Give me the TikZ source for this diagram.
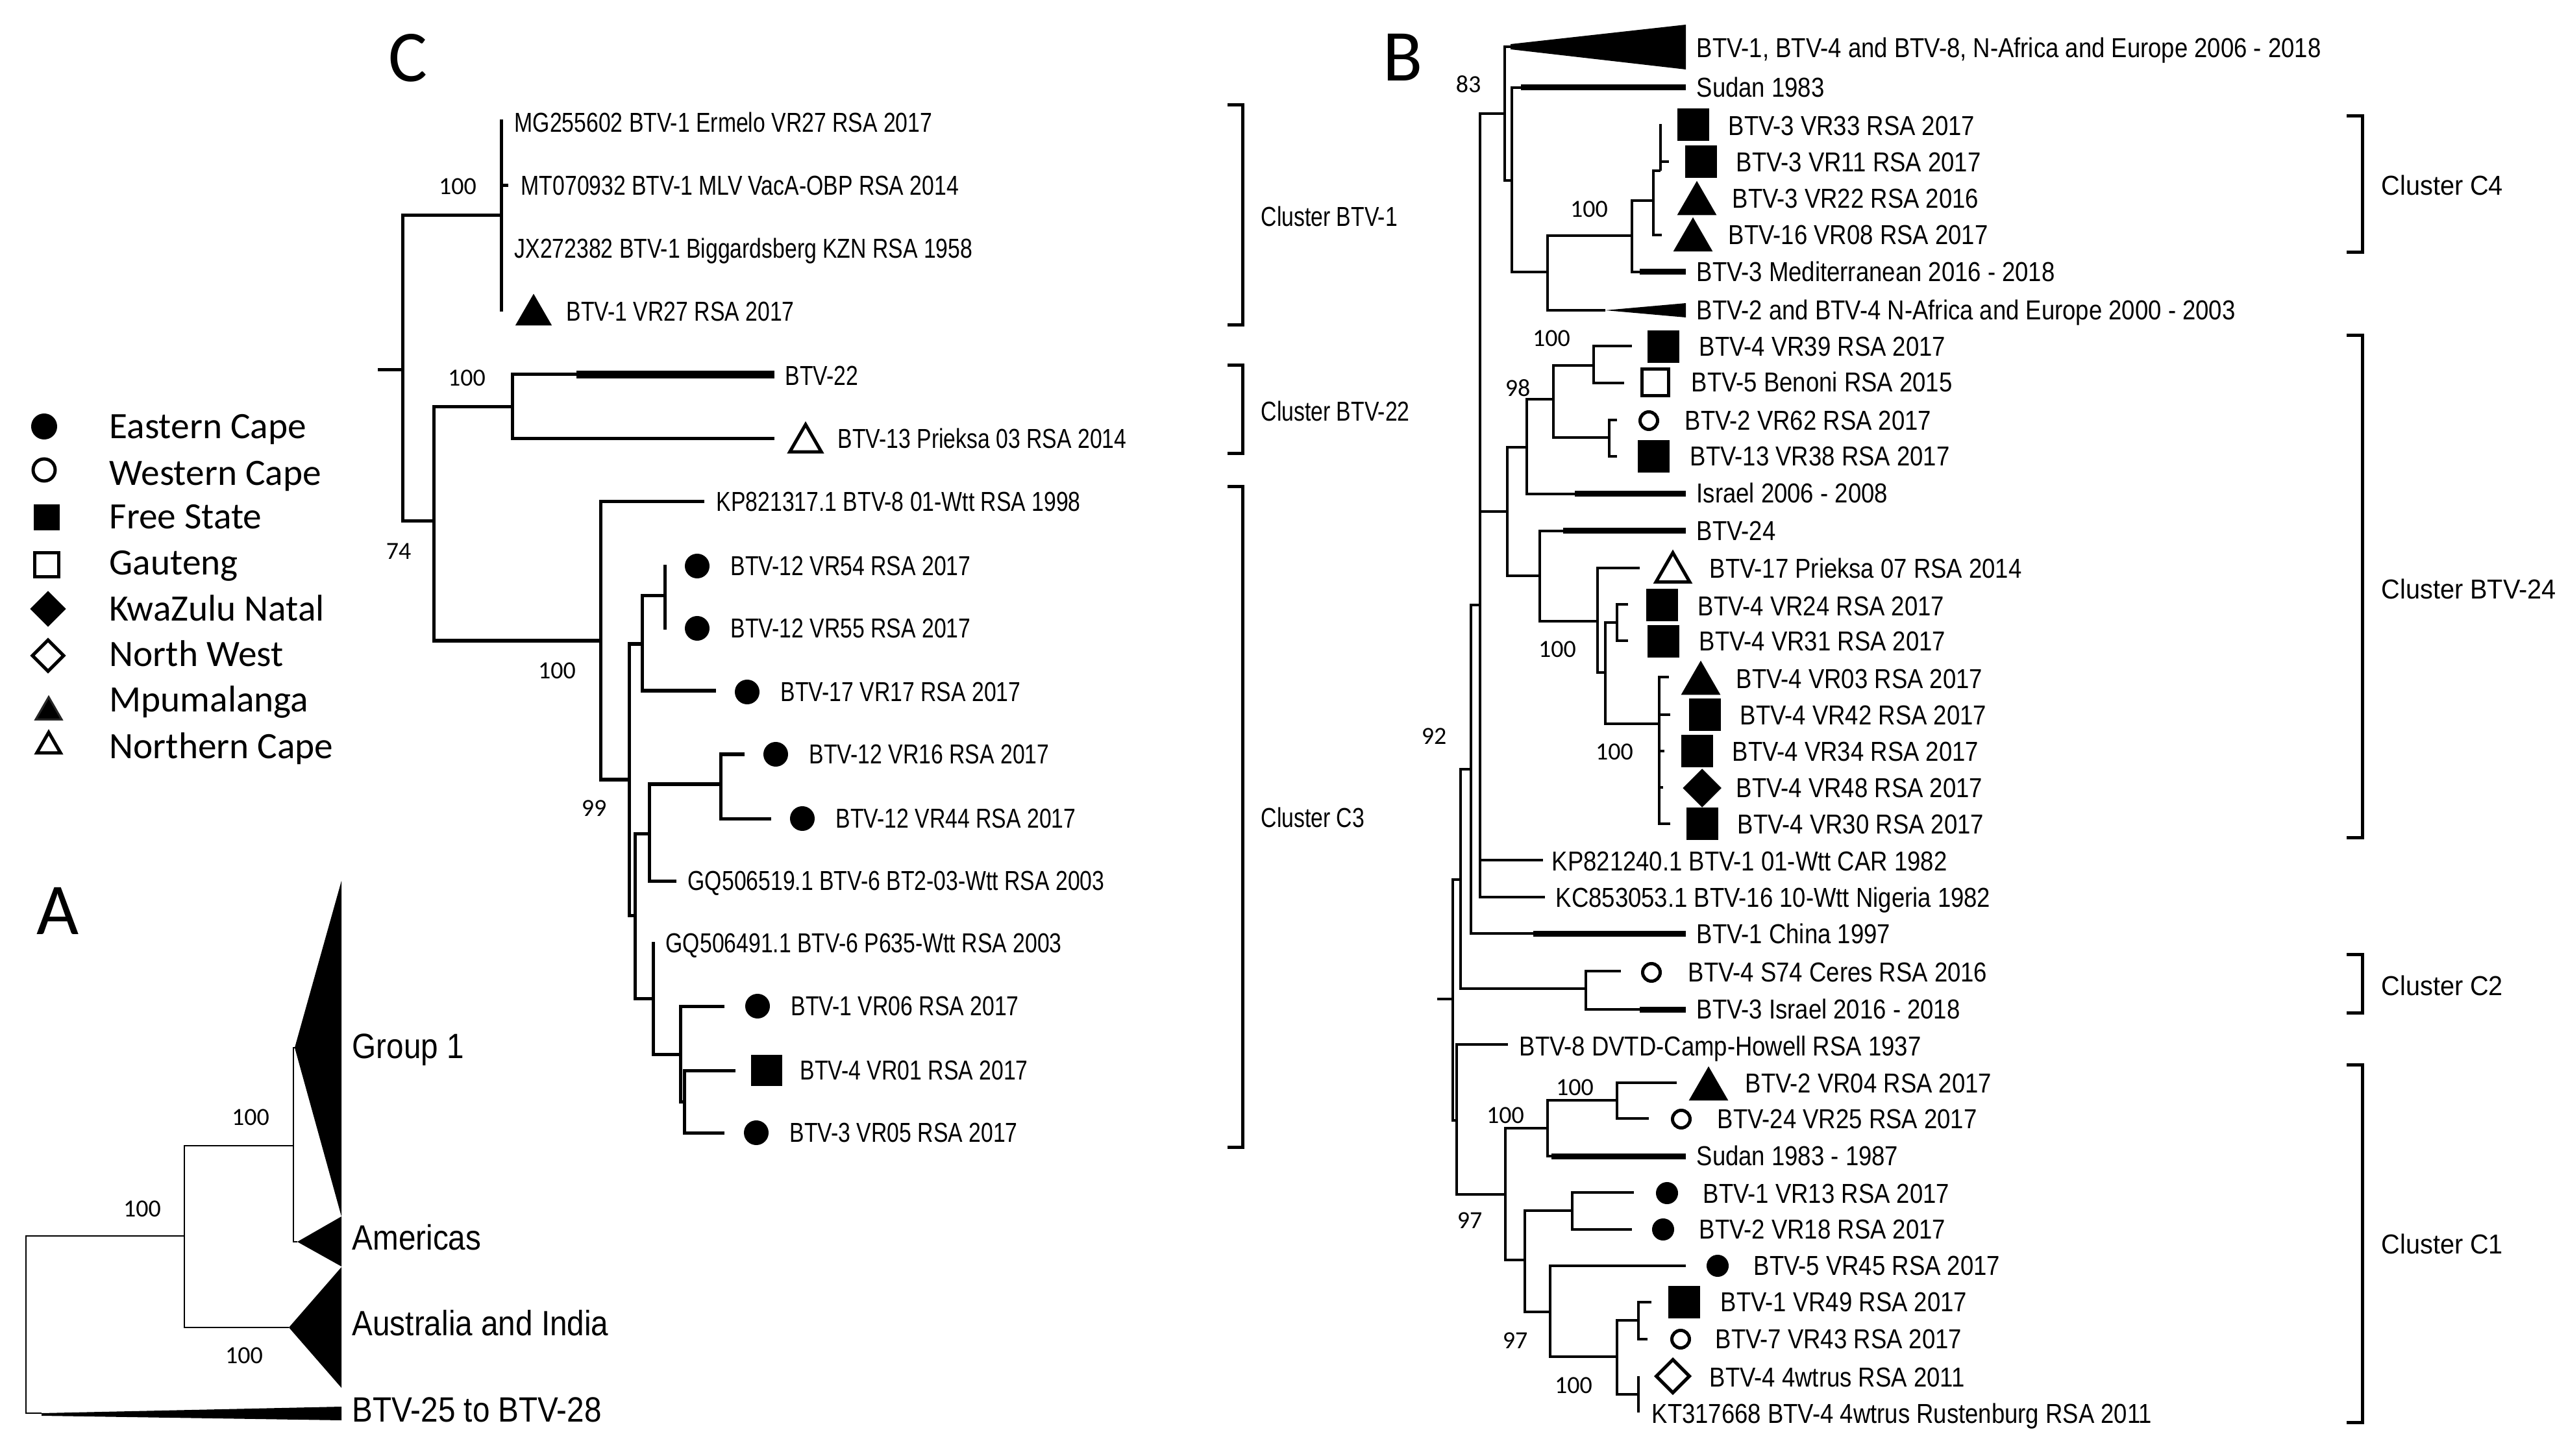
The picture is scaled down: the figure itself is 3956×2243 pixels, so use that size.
\documentclass[tikz,border=0pt]{standalone}
\usepackage{fontspec}
\setmainfont{Carlito}
\newfontfamily\narrowfont[FakeStretch=0.8]{Liberation Sans}
\newfontfamily\bnarrowfont[FakeStretch=0.865]{Liberation Sans}
\newfontfamily\clusterfont[FakeStretch=0.94]{Liberation Sans}
\newfontfamily\cladefont[FakeStretch=0.88]{Liberation Sans}
\usetikzlibrary{shapes.geometric}

\tikzset{
  leaf/.style={anchor=west, inner sep=0pt, text height=0.72em, text depth=0pt, yshift=-0.02cm, font=\narrowfont\fontsize{12}{14}\selectfont},
  bleaf/.style={leaf, font=\bnarrowfont\fontsize{12}{14}\selectfont},
  clus/.style={anchor=west, inner sep=0pt, text height=0.72em, text depth=0pt, font=\clusterfont\fontsize{12}{14}\selectfont},
  cclus/.style={clus, font=\narrowfont\fontsize{12}{14}\selectfont},
  clade/.style={anchor=west, inner sep=0pt, text height=0.72em, text depth=0pt, font=\cladefont\fontsize{15.4}{18}\selectfont},
  boot/.style={inner sep=0pt, font=\fontsize{10.8}{12}\selectfont},
  legtxt/.style={anchor=west, inner sep=0pt, text height=0.64em, text depth=0pt, yshift=-0.06cm, font=\fontsize{16.3}{19}\selectfont},
  panel/.style={inner sep=0pt, font=\fontsize{32}{36}\selectfont},
  brk/.style={line width=0.05cm},
  thk/.style={line width=0.09cm},
  fcirc/.style={circle, fill, inner sep=0pt, minimum size=#1},
  fcirc/.default=0.38cm,
  ocirc/.style={circle, draw, line width=0.05cm, inner sep=0pt, minimum size=#1},
  ocirc/.default=0.27cm,
  fsq/.style={rectangle, fill, inner sep=0pt, minimum size=#1},
  fsq/.default=0.49cm,
  osq/.style={rectangle, draw, line width=0.05cm, inner sep=0pt, minimum size=#1},
  osq/.default=0.41cm,
  fdia/.style={diamond, fill, inner sep=0pt, minimum size=#1},
  fdia/.default=0.6cm,
  odia/.style={diamond, draw, line width=0.05cm, inner sep=0pt, minimum size=#1},
  odia/.default=0.53cm,
  ftri/.style={regular polygon, regular polygon sides=3, fill, inner sep=0pt, minimum size=#1, yshift=-#1/8},
  ftri/.default=0.7cm,
  otri/.style={regular polygon, regular polygon sides=3, draw, line width=0.05cm, inner sep=0pt, minimum size=#1, yshift=-#1/8},
  otri/.default=0.6cm
}

\begin{document}
\begin{tikzpicture}[x=0.01cm, y=-0.01cm]
  \useasboundingbox (0,0) rectangle (3956,2243);

  % ---------------- Panel A ----------------
  \node[panel] (labA) at (89,1403) {A};
  \coordinate (a0) at (40,2040);
  \coordinate (a1) at (284,1904);
  \coordinate (a2) at (452,1765);
  \coordinate (gG) at (454,1614);
  \coordinate (gAm) at (458,1913);
  \coordinate (gAu) at (445,2045);
  \coordinate (g25) at (64,2177);
  \begin{scope}[line width=0.025cm]
    \draw (a0) |- (a1);  \draw (a0) |- (g25);
    \draw (a1) |- (a2);  \draw (a1) |- (gAu);
    \draw (a2) |- (gG);  \draw (a2) |- (gAm);
  \end{scope}
  % collapsed clades
  \fill (gG) -- (526,1357) -- (526,1874) -- cycle;
  \fill (gAm) -- (526,1874) -- (526,1951) -- cycle;
  \fill (gAu) -- (526,1952) -- (526,2138) -- cycle;
  \fill (g25) -- (526,2167) -- (526,2188) -- (64,2181) -- cycle;
  \node[clade] (nG) at (542,1618) {Group 1};
  \node[clade] (nAm) at (542,1913) {Americas};
  \node[clade] (nAu) at (542,2045) {Australia and India};
  \node[clade] (n25) at (542,2178) {BTV-25 to BTV-28};
  \node[boot] (ba1) at (386,1721) {100};
  \node[boot] (ba2) at (219,1862) {100};
  \node[boot] (ba3) at (376,2088) {100};

  % ---------------- Legend ----------------
  \node[fcirc=0.40cm] (lg1) at (68,657) {};
  \node[ocirc=0.34cm] (lg2) at (68,724) {};
  \node[fsq=0.40cm] (lg3) at (72,797) {};
  \node[osq=0.36cm] (lg4) at (72,870) {};
  \node[fdia=0.56cm] (lg5) at (74,938) {};
  \node[odia=0.50cm] (lg6) at (74,1010) {};
  \node[ftri=0.46cm, draw=black!85, line width=0.03cm] (lg7) at (75,1091) {};
  \node[otri=0.42cm] (lg8) at (75,1144) {};
  \node[legtxt] (lt1) at (168,658) {Eastern Cape};
  \node[legtxt] (lt2) at (168,730) {Western Cape};
  \node[legtxt] (lt3) at (168,797) {Free State};
  \node[legtxt] (lt4) at (168,868) {Gauteng};
  \node[legtxt] (lt5) at (168,939) {KwaZulu Natal};
  \node[legtxt] (lt6) at (168,1009) {North West};
  \node[legtxt] (lt7) at (168,1079) {Mpumalanga};
  \node[legtxt] (lt8) at (168,1151) {Northern Cape};

  % ---------------- Panel C ----------------
  \node[panel] (labC) at (628,89) {C};
  % internal nodes
  \coordinate (cst) at (582,570);
  \coordinate (c0) at (620,570);
  \coordinate (c1) at (772,332);
  \coordinate (c74) at (668,803);
  \coordinate (c22) at (789,627);
  \coordinate (c100) at (925,987);
  \coordinate (c99) at (969,1201);
  \coordinate (ca) at (989,992);
  \coordinate (cb) at (1024,918);
  \coordinate (cc) at (978,1410);
  \coordinate (cd) at (1000,1284);
  \coordinate (ce) at (1110,1208);
  \coordinate (cf) at (1006,1538);
  \coordinate (cg) at (1048,1624);
  \coordinate (ch) at (1054,1697);
  % tips
  \coordinate (tMG) at (772,184);
  \coordinate (tMT) at (783,286);
  \coordinate (tJX) at (772,383);
  \coordinate (tV27) at (772,480);
  \coordinate (t22) at (1193,577);
  \coordinate (t22k) at (888,577);
  \coordinate (tP03) at (1193,676);
  \coordinate (tKP) at (1085,773);
  \coordinate (tV54) at (1024,870);
  \coordinate (tV55) at (1024,970);
  \coordinate (tV17) at (1103,1064);
  \coordinate (tV16) at (1147,1162);
  \coordinate (tV44) at (1188,1261);
  \coordinate (tGQa) at (1042,1357);
  \coordinate (tGQb) at (1006,1451);
  \coordinate (tV06) at (1116,1550);
  \coordinate (tV01) at (1133,1649);
  \coordinate (tV05) at (1116,1745);
  \begin{scope}[line width=0.05cm]
    \draw (cst) -- (c0);
    \draw (c0) |- (c1);    \draw (c0) |- (c74);
    \draw (c1) |- (tMG);   \draw (c1) |- (tMT);
    \draw (c1) |- (tJX);   \draw (c1) |- (tV27);
    \draw (c74) |- (c22);  \draw (c74) |- (c100);
    \draw (c22) |- (t22);  \draw (c22) |- (tP03);
    \draw (c100) |- (tKP); \draw (c100) |- (c99);
    \draw (c99) |- (ca);   \draw (c99) |- (cc);
    \draw (ca) |- (cb);    \draw (ca) |- (tV17);
    \draw (cb) |- (tV54);  \draw (cb) |- (tV55);
    \draw (cc) |- (cd);    \draw (cc) |- (cf);
    \draw (cd) |- (ce);    \draw (cd) |- (tGQa);
    \draw (ce) |- (tV16);  \draw (ce) |- (tV44);
    \draw (cf) |- (tGQb);  \draw (cf) |- (cg);
    \draw (cg) |- (tV06);  \draw (cg) |- (ch);
    \draw (ch) |- (tV01);  \draw (ch) |- (tV05);
  \end{scope}
  \draw[line width=0.12cm] (t22k) -- (t22);
  % symbols
  \node[ftri=0.65cm] (sV27) at (822,477) {};
  \node[otri=0.56cm] (sP03) at (1241,675) {};
  \node[fcirc] (sV54) at (1074,872) {};
  \node[fcirc] (sV55) at (1074,968) {};
  \node[fcirc] (sV17) at (1151,1066) {};
  \node[fcirc] (sV16) at (1195,1162) {};
  \node[fcirc] (sV44) at (1236,1261) {};
  \node[fcirc] (sV06) at (1167,1550) {};
  \node[fsq=0.47cm] (sV01) at (1181,1649) {};
  \node[fcirc] (sV05) at (1165,1745) {};
  % labels
  \node[leaf] (lMG) at (792,189) {MG255602 BTV-1 Ermelo VR27 RSA 2017};
  \node[leaf] (lMT) at (802,286) {MT070932 BTV-1 MLV VacA-OBP RSA 2014};
  \node[leaf] (lJX) at (792,383) {JX272382 BTV-1 Biggardsberg KZN RSA 1958};
  \node[leaf] (lV27) at (872,480) {BTV-1 VR27 RSA 2017};
  \node[leaf] (l22) at (1209,579) {BTV-22};
  \node[leaf] (lP03) at (1290,676) {BTV-13 Prieksa 03 RSA 2014};
  \node[leaf] (lKP) at (1103,773) {KP821317.1 BTV-8 01-Wtt RSA 1998};
  \node[leaf] (lV54) at (1125,872) {BTV-12 VR54 RSA 2017};
  \node[leaf] (lV55) at (1125,968) {BTV-12 VR55 RSA 2017};
  \node[leaf] (lV17) at (1202,1066) {BTV-17 VR17 RSA 2017};
  \node[leaf] (lV16) at (1246,1162) {BTV-12 VR16 RSA 2017};
  \node[leaf] (lV44) at (1287,1261) {BTV-12 VR44 RSA 2017};
  \node[leaf] (lGQa) at (1059,1357) {GQ506519.1 BTV-6 BT2-03-Wtt RSA 2003};
  \node[leaf] (lGQb) at (1025,1453) {GQ506491.1 BTV-6 P635-Wtt RSA 2003};
  \node[leaf] (lV06) at (1218,1550) {BTV-1 VR06 RSA 2017};
  \node[leaf] (lV01) at (1232,1649) {BTV-4 VR01 RSA 2017};
  \node[leaf] (lV05) at (1216,1745) {BTV-3 VR05 RSA 2017};
  % bootstrap values
  \node[boot] (bc1) at (705,287) {100};
  \node[boot] (bc2) at (719,582) {100};
  \node[boot] (bc3) at (614,849) {74};
  \node[boot] (bc4) at (858,1033) {100};
  \node[boot] (bc5) at (915,1245) {99};
  % clusters
  \draw[brk] (1891,162) -| (1914,501) -- (1891,501);
  \draw[brk] (1891,563) -| (1914,699) -- (1891,699);
  \draw[brk] (1891,750) -| (1914,1767) -- (1891,1767);
  \node[cclus] (kc1) at (1942,336) {Cluster BTV-1};
  \node[cclus] (kc2) at (1942,636) {Cluster BTV-22};
  \node[cclus] (kc3) at (1942,1262) {Cluster C3};

  % ---------------- Panel B ----------------
  \node[panel] (labB) at (2161,88) {B};
  % internal nodes
  \coordinate (bst) at (2214,1539);
  \coordinate (b0) at (2238,1539);
  \coordinate (b1) at (2250,1355);
  \coordinate (b2) at (2266,1185);
  \coordinate (b3) at (2280,932);
  \coordinate (b83) at (2318,175);
  \coordinate (by) at (2329,278);
  \coordinate (bz) at (2384,419);
  \coordinate (bc4) at (2514,363);
  \coordinate (b5) at (2547,309);
  \coordinate (b6) at (2558,263);
  \coordinate (bn1) at (2322,788);
  \coordinate (b98) at (2352,689);
  \coordinate (b7) at (2393,615);
  \coordinate (b8) at (2455,563);
  \coordinate (b9) at (2479,674);
  \coordinate (b24) at (2372,887);
  \coordinate (b10) at (2461,957);
  \coordinate (b11) at (2473,1036);
  \coordinate (b12) at (2491,959);
  \coordinate (b13) at (2556,1115);
  \coordinate (bc2) at (2443,1523);
  \coordinate (bl) at (2244,1726);
  \coordinate (b97) at (2319,1840);
  \coordinate (b14) at (2384,1738);
  \coordinate (b15) at (2491,1695);
  \coordinate (b16) at (2349,1941);
  \coordinate (b17) at (2422,1865);
  \coordinate (b18) at (2388,2021);
  \coordinate (b19) at (2491,2090);
  \coordinate (b20) at (2524,2034);
  \coordinate (b21) at (2524,2148);
  % tips
  \coordinate (uTop) at (2327,72);
  \coordinate (uSud) at (2597,135);   \coordinate (uSudk) at (2343,135);
  \coordinate (uV33) at (2558,191);
  \coordinate (uV11) at (2571,249);
  \coordinate (uV22) at (2547,306);
  \coordinate (uV08) at (2560,362);
  \coordinate (uMed) at (2597,419);   \coordinate (uMedk) at (2526,419);
  \coordinate (uNA) at (2473,478);
  \coordinate (uV39) at (2514,533);
  \coordinate (uBen) at (2502,590);
  \coordinate (uV62) at (2491,647);
  \coordinate (uV38) at (2491,703);
  \coordinate (uIsr) at (2597,761);   \coordinate (uIsrk) at (2426,761);
  \coordinate (u24) at (2597,818);    \coordinate (u24k) at (2408,818);
  \coordinate (uP07) at (2526,875);
  \coordinate (uV24) at (2508,931);
  \coordinate (uV31) at (2508,987);
  \coordinate (uV03) at (2571,1043);
  \coordinate (uV42) at (2573,1101);
  \coordinate (uV34) at (2564,1157);
  \coordinate (uV48) at (2562,1213);
  \coordinate (uV30) at (2573,1269);
  \coordinate (uKP) at (2377,1325);
  \coordinate (uKC) at (2380,1382);
  \coordinate (uChi) at (2597,1438);  \coordinate (uChik) at (2362,1438);
  \coordinate (uS74) at (2497,1496);
  \coordinate (uIs16) at (2597,1555); \coordinate (uIs16k) at (2526,1555);
  \coordinate (uDV) at (2323,1609);
  \coordinate (uV04) at (2583,1668);
  \coordinate (uV25) at (2540,1723);
  \coordinate (uSu87) at (2597,1781); \coordinate (uSu87k) at (2390,1781);
  \coordinate (uV13) at (2517,1837);
  \coordinate (uV18) at (2514,1894);
  \coordinate (uV45) at (2597,1950);
  \coordinate (uV49) at (2544,2006);
  \coordinate (uV43) at (2538,2063);
  \coordinate (u4w) at (2524,2120);
  \coordinate (uKT) at (2524,2176);
  \begin{scope}[line width=0.032cm]
    \draw (bst) -- (b0);
    \draw (b0) |- (b1);    \draw (b0) |- (bl);
    \draw (b1) |- (b2);    \draw (b1) |- (bc2);
    \draw (b2) |- (b3);    \draw (b2) |- (uChi);
    \draw (b3) |- (b83);   \draw (b3) |- (bn1);
    \draw (b3) |- (uKP);   \draw (b3) |- (uKC);
    \draw (b83) |- (uTop); \draw (b83) |- (by);
    \draw (by) |- (uSud);  \draw (by) |- (bz);
    \draw (bz) |- (bc4);   \draw (bz) |- (uNA);
    \draw (bc4) |- (b5);   \draw (bc4) |- (uMed);
    \draw (b5) |- (b6);    \draw (b5) |- (uV22);  \draw (b5) |- (uV08);
    \draw (b6) |- (uV33);  \draw (b6) |- (uV11);
    \draw (bn1) |- (b98);  \draw (bn1) |- (b24);
    \draw (b98) |- (b7);   \draw (b98) |- (uIsr);
    \draw (b7) |- (b8);    \draw (b7) |- (b9);
    \draw (b8) |- (uV39);  \draw (b8) |- (uBen);
    \draw (b9) |- (uV62);  \draw (b9) |- (uV38);
    \draw (b24) |- (u24);  \draw (b24) |- (b10);
    \draw (b10) |- (uP07); \draw (b10) |- (b11);
    \draw (b11) |- (b12);  \draw (b11) |- (b13);
    \draw (b12) |- (uV24); \draw (b12) |- (uV31);
    \draw (b13) |- (uV03); \draw (b13) |- (uV42); \draw (b13) |- (uV34);
    \draw (b13) |- (uV48); \draw (b13) |- (uV30);
    \draw (bc2) |- (uS74); \draw (bc2) |- (uIs16);
    \draw (bl) |- (uDV);   \draw (bl) |- (b97);
    \draw (b97) |- (b14);  \draw (b97) |- (b16);
    \draw (b14) |- (b15);  \draw (b14) |- (uSu87);
    \draw (b15) |- (uV04); \draw (b15) |- (uV25);
    \draw (b16) |- (b17);  \draw (b16) |- (b18);
    \draw (b17) |- (uV13); \draw (b17) |- (uV18);
    \draw (b18) |- (uV45); \draw (b18) |- (b19);
    \draw (b19) |- (b20);  \draw (b19) |- (b21);
    \draw (b20) |- (uV49); \draw (b20) |- (uV43);
    \draw (b21) |- (u4w);  \draw (b21) |- (uKT);
  \end{scope}
  % thick and collapsed branches
  \fill (2327,68) -- (2597,38) -- (2597,107) -- (2327,76) -- cycle;
  \fill (uNA) -- (2597,467) -- (2597,489) -- cycle;
  \draw[thk] (uSudk) -- (uSud);
  \draw[thk] (uMedk) -- (uMed);
  \draw[thk] (uIsrk) -- (uIsr);
  \draw[thk] (u24k) -- (u24);
  \draw[thk] (uChik) -- (uChi);
  \draw[thk] (uIs16k) -- (uIs16);
  \draw[thk] (uSu87k) -- (uSu87);
  % symbols
  \node[fsq] (sV33) at (2608,192) {};
  \node[fsq] (sV11) at (2620,249) {};
  \node[ftri] (sV22) at (2614,305) {};
  \node[ftri] (sV08) at (2608,361) {};
  \node[fsq] (sV39) at (2562,534) {};
  \node[osq] (sBen) at (2550,589) {};
  \node[ocirc] (sV62) at (2540,648) {};
  \node[fsq] (sV38) at (2547,703) {};
  \node[otri] (sP07) at (2577,874) {};
  \node[fsq] (sV24) at (2560,932) {};
  \node[fsq] (sV31) at (2562,988) {};
  \node[ftri] (sV03) at (2620,1044) {};
  \node[fsq] (sV42) at (2626,1101) {};
  \node[fsq] (sV34) at (2614,1157) {};
  \node[fdia] (sV48) at (2622,1214) {};
  \node[fsq] (sV30) at (2622,1269) {};
  \node[ocirc] (sS74) at (2544,1498) {};
  \node[ftri] (sV04) at (2632,1669) {};
  \node[ocirc] (sV25) at (2590,1724) {};
  \node[fcirc=0.34cm] (sV13) at (2568,1838) {};
  \node[fcirc=0.34cm] (sV18) at (2562,1894) {};
  \node[fcirc=0.34cm] (sV45) at (2646,1950) {};
  \node[fsq] (sV49) at (2594,2006) {};
  \node[ocirc] (sV43) at (2589,2063) {};
  \node[odia] (s4w) at (2577,2120) {};
  % labels
  \node[bleaf] (mTop) at (2613,74) {BTV-1, BTV-4 and BTV-8, N-Africa and Europe 2006 - 2018};
  \node[bleaf] (mSud) at (2613,135) {Sudan 1983};
  \node[bleaf] (mV33) at (2662,194) {BTV-3 VR33 RSA 2017};
  \node[bleaf] (mV11) at (2674,250) {BTV-3 VR11 RSA 2017};
  \node[bleaf] (mV22) at (2668,306) {BTV-3 VR22 RSA 2016};
  \node[bleaf] (mV08) at (2662,362) {BTV-16 VR08 RSA 2017};
  \node[bleaf] (mMed) at (2613,419) {BTV-3 Mediterranean 2016 - 2018};
  \node[bleaf] (mNA) at (2613,478) {BTV-2 and BTV-4 N-Africa and Europe 2000 - 2003};
  \node[bleaf] (mV39) at (2617,534) {BTV-4 VR39 RSA 2017};
  \node[bleaf] (mBen) at (2605,589) {BTV-5 Benoni RSA 2015};
  \node[bleaf] (mV62) at (2595,648) {BTV-2 VR62 RSA 2017};
  \node[bleaf] (mV38) at (2603,703) {BTV-13 VR38 RSA 2017};
  \node[bleaf] (mIsr) at (2613,760) {Israel 2006 - 2008};
  \node[bleaf] (m24) at (2613,818) {BTV-24};
  \node[bleaf] (mP07) at (2633,876) {BTV-17 Prieksa 07 RSA 2014};
  \node[bleaf] (mV24) at (2615,934) {BTV-4 VR24 RSA 2017};
  \node[bleaf] (mV31) at (2617,988) {BTV-4 VR31 RSA 2017};
  \node[bleaf] (mV03) at (2674,1046) {BTV-4 VR03 RSA 2017};
  \node[bleaf] (mV42) at (2680,1102) {BTV-4 VR42 RSA 2017};
  \node[bleaf] (mV34) at (2668,1158) {BTV-4 VR34 RSA 2017};
  \node[bleaf] (mV48) at (2674,1214) {BTV-4 VR48 RSA 2017};
  \node[bleaf] (mV30) at (2676,1270) {BTV-4 VR30 RSA 2017};
  \node[bleaf] (mKP) at (2390,1327) {KP821240.1 BTV-1 01-Wtt CAR 1982};
  \node[bleaf] (mKC) at (2396,1383) {KC853053.1 BTV-16 10-Wtt Nigeria 1982};
  \node[bleaf] (mChi) at (2613,1439) {BTV-1 China 1997};
  \node[bleaf] (mS74) at (2600,1498) {BTV-4 S74 Ceres RSA 2016};
  \node[bleaf] (mIs16) at (2613,1555) {BTV-3 Israel 2016 - 2018};
  \node[bleaf] (mDV) at (2340,1612) {BTV-8 DVTD-Camp-Howell RSA 1937};
  \node[bleaf] (mV04) at (2688,1669) {BTV-2 VR04 RSA 2017};
  \node[bleaf] (mV25) at (2645,1724) {BTV-24 VR25 RSA 2017};
  \node[bleaf] (mSu87) at (2613,1781) {Sudan 1983 - 1987};
  \node[bleaf] (mV13) at (2623,1839) {BTV-1 VR13 RSA 2017};
  \node[bleaf] (mV18) at (2617,1894) {BTV-2 VR18 RSA 2017};
  \node[bleaf] (mV45) at (2701,1950) {BTV-5 VR45 RSA 2017};
  \node[bleaf] (mV49) at (2650,2006) {BTV-1 VR49 RSA 2017};
  \node[bleaf] (mV43) at (2642,2063) {BTV-7 VR43 RSA 2017};
  \node[bleaf] (m4w) at (2633,2122) {BTV-4 4wtrus RSA 2011};
  \node[bleaf] (mKT) at (2544,2178) {KT317668 BTV-4 4wtrus Rustenburg RSA 2011};
  % bootstrap values
  \node[boot] (bb1) at (2262,130) {83};
  \node[boot] (bb2) at (2448,322) {100};
  \node[boot] (bb3) at (2390,521) {100};
  \node[boot] (bb4) at (2338,598) {98};
  \node[boot] (bb5) at (2399,1000) {100};
  \node[boot] (bb6) at (2487,1158) {100};
  \node[boot] (bb7) at (2209,1134) {92};
  \node[boot] (bb8) at (2426,1675) {100};
  \node[boot] (bb9) at (2319,1718) {100};
  \node[boot] (bb10) at (2264,1880) {97};
  \node[boot] (bb11) at (2334,2065) {97};
  \node[boot] (bb12) at (2424,2134) {100};
  % clusters
  \draw[brk] (3615,179) -| (3639,389) -- (3615,389);
  \draw[brk] (3615,517) -| (3639,1290) -- (3615,1290);
  \draw[brk] (3615,1470) -| (3639,1560) -- (3615,1560);
  \draw[brk] (3615,1640) -| (3639,2191) -- (3615,2191);
  \node[clus] (kb1) at (3668,288) {Cluster C4};
  \node[clus] (kb2) at (3668,910) {Cluster BTV-24};
  \node[clus] (kb3) at (3668,1521) {Cluster C2};
  \node[clus] (kb4) at (3668,1919) {Cluster C1};
\end{tikzpicture}
\end{document}
